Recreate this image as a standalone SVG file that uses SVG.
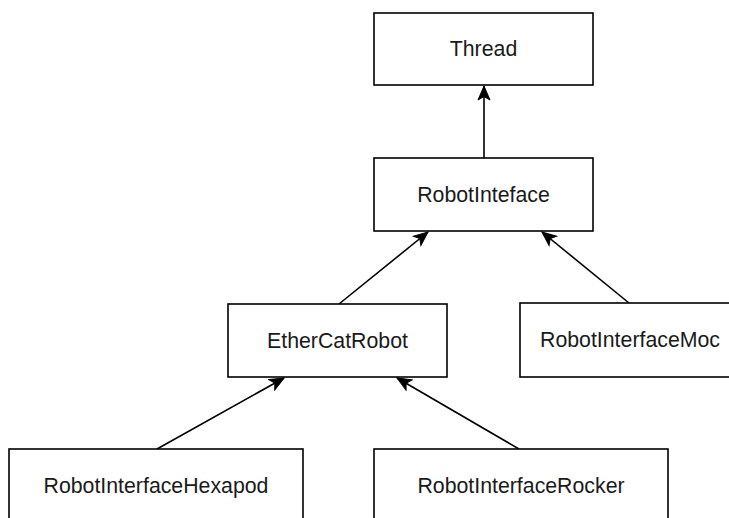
<svg xmlns="http://www.w3.org/2000/svg" width="729" height="518" viewBox="0 0 729 518">
  <style>
    .box { fill: #ffffff; stroke: #000000; stroke-width: 1.6; }
    .label { font-family: "Liberation Sans", Arial, Helvetica, sans-serif; font-size: 21.3px; fill: #1a1a1a; text-anchor: middle; dominant-baseline: central; }
    .edge { fill: none; stroke: #000000; stroke-width: 1.6; marker-end: url(#classic); }
  </style>
  <defs>
    <!-- notched "classic" arrowhead, tip at the path end -->
    <marker id="classic" markerUnits="userSpaceOnUse" markerWidth="16" markerHeight="14" viewBox="0 0 16 14" refX="15" refY="7" orient="auto">
      <path d="M1,1 L15,7 L1,13 L4.5,7 Z" fill="#000000" stroke="#000000" stroke-width="1"/>
    </marker>
  </defs>
  <rect width="729" height="518" fill="#ffffff"/>

  <g id="connectors">
    <line class="edge" x1="484" y1="158" x2="484" y2="86"/>
    <line class="edge" x1="339" y1="304" x2="428" y2="232"/>
    <line class="edge" x1="629" y1="303" x2="542" y2="232"/>
    <line class="edge" x1="157" y1="449" x2="284" y2="378"/>
    <line class="edge" x1="519" y1="449" x2="397" y2="378"/>
  </g>

  <g id="thread">
    <rect class="box" x="374" y="13" width="219" height="72"/>
    <text class="label" x="483.5" y="49">Thread</text>
  </g>
  <g id="robot-inteface">
    <rect class="box" x="374" y="158" width="219" height="73"/>
    <text class="label" x="483.5" y="194.5">RobotInteface</text>
  </g>
  <g id="ethercat-robot">
    <rect class="box" x="228" y="304" width="219" height="73"/>
    <text class="label" x="337.5" y="340.5">EtherCatRobot</text>
  </g>
  <g id="robot-interface-moc">
    <rect class="box" x="520" y="303" width="220" height="74"/>
    <text class="label" x="630" y="340">RobotInterfaceMoc</text>
  </g>
  <g id="robot-interface-hexapod">
    <rect class="box" x="9" y="449" width="294" height="80"/>
    <text class="label" x="156" y="486">RobotInterfaceHexapod</text>
  </g>
  <g id="robot-interface-rocker">
    <rect class="box" x="374" y="449" width="294" height="80"/>
    <text class="label" x="521" y="486">RobotInterfaceRocker</text>
  </g>
</svg>
